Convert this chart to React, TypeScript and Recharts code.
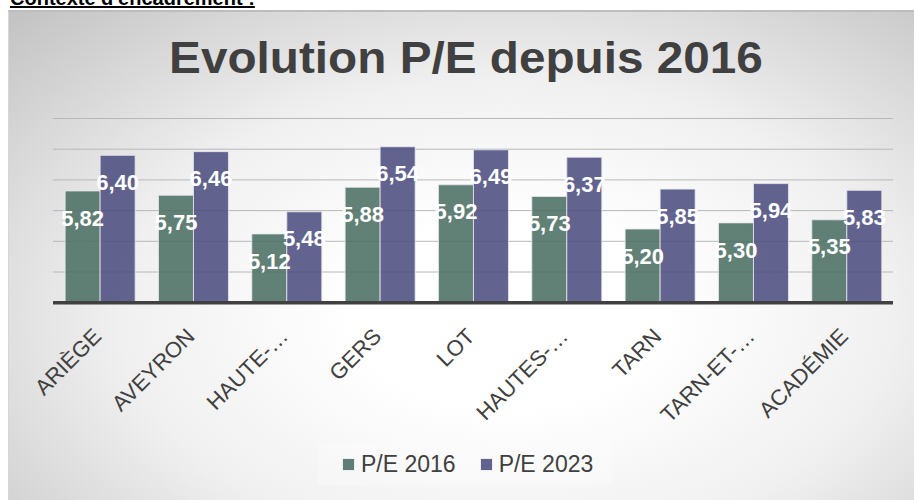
import { BarChart, Bar, XAxis, YAxis, CartesianGrid, Legend, LabelList } from 'recharts';

const FONT = '"Liberation Sans", Arial, sans-serif';

const categories = ['ARIÈGE', 'AVEYRON', 'HAUTE-…', 'GERS', 'LOT', 'HAUTES-…', 'TARN', 'TARN-ET-…', 'ACADÉMIE'];
const pe2016 = [5.82, 5.75, 5.12, 5.88, 5.92, 5.73, 5.2, 5.3, 5.35];
const pe2023 = [6.4, 6.46, 5.48, 6.54, 6.49, 6.37, 5.85, 5.94, 5.83];
const yTicks = [4, 4.5, 5, 5.5, 6, 6.5, 7];

const data = categories.map((name, i) => ({ name, pe2016: pe2016[i], pe2023: pe2023[i] }));

const fmt = (v: number) => v.toFixed(2).replace('.', ',');

function AxisTick({ x, y, payload }: any) {
  return (
    <g transform={`translate(${x + 3},${y + 27})`}>
      <text textAnchor="end" transform="rotate(-45)" fill="#404040" fontSize={22} fontFamily={FONT}>
        {payload.value}
      </text>
    </g>
  );
}

function LegendBox({ payload }: any) {
  return (
    <div style={{ display: 'flex', alignItems: 'center', height: 42, paddingLeft: 25, fontFamily: FONT, fontSize: 23, color: '#404040', lineHeight: '42px', background: 'rgba(255,255,255,0.25)' }}>
      {(payload || []).map((p: any, i: number) => (
        <span key={p.value} style={{ display: 'flex', alignItems: 'center', marginRight: i === 0 ? 25 : 0 }}>
          <span style={{ width: 11, height: 11, background: p.color, opacity: 0.88, marginRight: 7, boxShadow: '0 0 0 1px rgba(230,230,240,0.7)' }} />
          {p.value}
        </span>
      ))}
    </div>
  );
}

export default function App() {
  return (
    <div style={{ position: 'absolute', left: 0, top: 0, width: 914, height: 500, overflow: 'hidden', background: '#fff' }}>
      <div style={{ position: 'absolute', left: 10, top: -12, fontFamily: FONT, fontSize: 20, fontWeight: 700, lineHeight: '20px', textDecoration: 'underline', color: '#000', whiteSpace: 'nowrap' }}>
        Contexte d'encadrement :
      </div>
      <div
        style={{
          position: 'absolute', left: 8, top: 10, width: 906, height: 490, boxSizing: 'border-box',
          borderTop: '2px solid #bdbdbd', borderLeft: '1px solid #d6d6d6',
          background: 'radial-gradient(ellipse farthest-corner at 55% 62%, #ffffff 0%, #ffffff 22%, #f0f0f0 55%, #c2c2c2 100%)',
        }}
      />
      <div style={{ position: 'absolute', left: 9, top: 34.5, width: 914, textAlign: 'center', fontFamily: FONT, fontSize: 45, fontWeight: 700, lineHeight: '45px', color: '#404040', transform: 'scaleX(1.06)', whiteSpace: 'nowrap' }}>
        Evolution P/E depuis 2016
      </div>
      <div style={{ position: 'absolute', left: 0, top: 0 }}>
        <BarChart
          width={914}
          height={500}
          data={data}
          margin={{ top: 118.5, right: 21, left: 53, bottom: 55.3 }}
          barCategoryGap="13%"
          barGap={0}
        >
          <CartesianGrid vertical={false} stroke="#b8b8b8" />
          <YAxis hide domain={[4, 7]} ticks={yTicks} />
          <XAxis
            dataKey="name"
            interval={0}
            height={100}
            tickLine={false}
            axisLine={{ stroke: '#404040', strokeWidth: 3.5 }}
            tick={(p: any) => <AxisTick {...p} />}
          />
          <Legend
            verticalAlign="bottom"
            content={(p: any) => <LegendBox {...p} />}
            wrapperStyle={{ top: 443, left: 318, width: 294, height: 42, bottom: 'auto' }}
          />
          <Bar dataKey="pe2016" name="P/E 2016" fill="#4b6e63" fillOpacity={0.88} stroke="#e8e8f0" strokeOpacity={0.8} isAnimationActive={false}>
            <LabelList dataKey="pe2016" position="insideTop" offset={19} fill="#ffffff" fontSize={22} fontWeight={700} fontFamily={FONT} formatter={fmt} />
          </Bar>
          <Bar dataKey="pe2023" name="P/E 2023" fill="#4c4e7f" fillOpacity={0.88} stroke="#e8e8f0" strokeOpacity={0.8} isAnimationActive={false}>
            <LabelList dataKey="pe2023" position="insideTop" offset={19} fill="#ffffff" fontSize={22} fontWeight={700} fontFamily={FONT} formatter={fmt} />
          </Bar>
        </BarChart>
      </div>
    </div>
  );
}
